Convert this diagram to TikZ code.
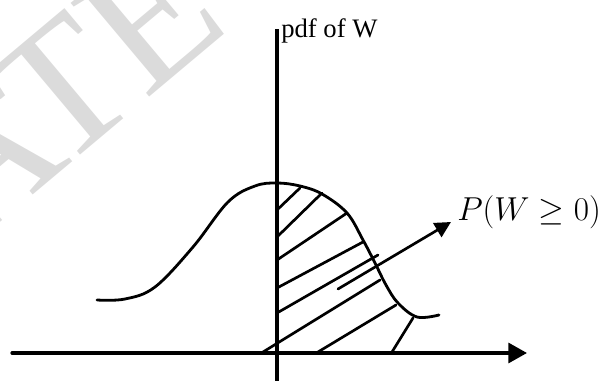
\documentclass[tikz,border=0pt]{standalone}
\usepackage{fontspec}
\setmainfont{Liberation Serif}
\usetikzlibrary{arrows.meta}
\tikzset{
  axisline/.style={
    line width=2.4pt,
    line cap=round
  },
  density/.style={
    line width=2.1pt,
    line cap=round
  },
  hatch/.style={
    line width=2pt,
    line cap=round
  },
  axisarrow/.style={-{Triangle[length=14pt,width=15pt]}, axisline},
  flow/.style={-{Triangle[length=12pt,width=12pt]}, line width=2pt, line cap=round},
  lbl/.style={inner sep=0pt, font=\fontsize{20}{24}\selectfont},
  problbl/.style={inner sep=0pt, font=\fontsize{27.5}{32}\selectfont},
  watermark/.style={inner sep=0pt, text=gray!28, font=\fontsize{140}{140}\selectfont, rotate=40}
}

\begin{document}
\begin{tikzpicture}[x=0.75pt, y=-0.75pt]
  \useasboundingbox (0,0) rectangle (615,381);

  \begin{scope}
    \clip (0,0) rectangle (615,381);
    \node[watermark] (wm) at (62,90) {ATE};
  \end{scope}

  % axes
  \coordinate (xl) at (12,353);
  \coordinate (xr) at (527,353);
  \coordinate (yb) at (277,381);
  \coordinate (yt) at (277,29);
  \draw[axisarrow] (xl) -- (xr);
  \draw[axisline, line cap=butt] (yb) -- (yt);

  \node[lbl, anchor=base west] (pdf) at (281,38) {pdf of W};

  % hatching of the right half
  \draw[hatch] (277,210) -- (300,188);
  \draw[hatch] (277,237) -- (322,193);
  \draw[hatch] (277,260) -- (347,213);
  \draw[hatch] (277,288) -- (363,242);
  \draw[hatch] (277,313) -- (378,255);
  \draw[hatch] (263,352) -- (380,280);
  \draw[hatch] (318,352) -- (396,305);
  \draw[hatch] (392,352) -- (413,318);

  % density curve
  \draw[density] plot[smooth, tension=0.6] coordinates {
    (97,300) (125,299) (155,287) (193,247) (228,202) (255,186) (277,183)
    (300,186) (322,194) (347,213) (363,240) (375,263) (386,285) (398,303)
    (417,317) (439,315)};

  % probability label
  \coordinate (tail) at (338,289);
  \coordinate (tip) at (451,222);
  \draw[flow] (tail) -- (tip);
  \node[problbl, anchor=base west] (prob) at (457,221) {$P(W\geq 0)$};
\end{tikzpicture}
\end{document}
